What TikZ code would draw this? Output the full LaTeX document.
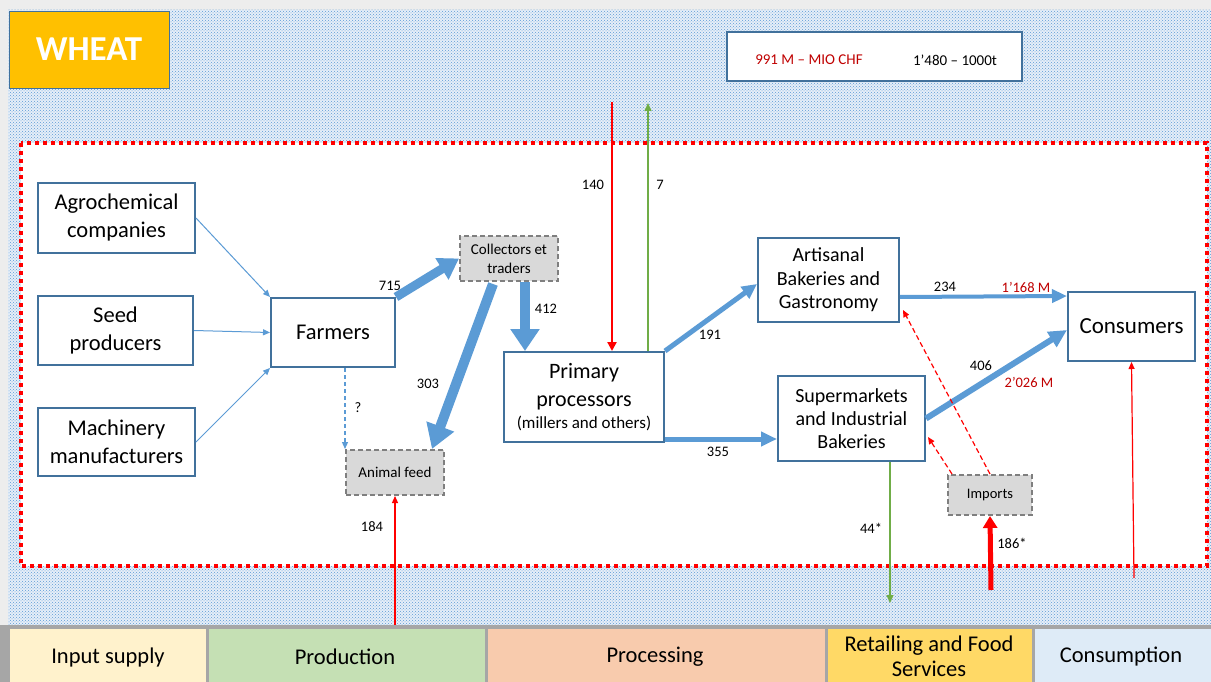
\documentclass[tikz,border=0pt]{standalone}
\usepackage{fontspec}
\setmainfont{Carlito}
\usetikzlibrary{arrows.meta,patterns,calc}
\definecolor{bluearr}{HTML}{5B9BD5}
\definecolor{boxline}{HTML}{41719C}
\definecolor{darkred}{HTML}{C00000}
\definecolor{greenarr}{HTML}{70AD47}
\definecolor{wheatfill}{HTML}{FFC000}
\definecolor{dotblue}{HTML}{5B9BD5}
\definecolor{dotbase}{HTML}{E6EEF8}
\definecolor{greyfill}{HTML}{D9D9D9}
\definecolor{greyline}{HTML}{7F7F7F}
\definecolor{barline}{HTML}{A6A6A6}
\definecolor{cInput}{HTML}{FFF2CC}
\definecolor{cProd}{HTML}{C5E0B4}
\definecolor{cProc}{HTML}{F8CBAD}
\definecolor{cRet}{HTML}{FFD966}
\definecolor{cCons}{HTML}{DEEBF7}
\begin{document}
\begin{tikzpicture}[x=1pt,y=-1pt,
  box/.style={draw=boxline,line width=2pt,fill=white,align=center,inner sep=0pt,font=\fontsize{22.5}{28}\selectfont},
  greybox/.style={draw=greyline,line width=2pt,dash pattern=on 5pt off 3pt,fill=greyfill,align=center,inner sep=0pt,font=\fontsize{15}{19}\selectfont},
  lbl/.style={font=\fontsize{14.5}{16}\selectfont,inner sep=0pt},
  redlbl/.style={lbl,text=darkred},
  thinblue/.style={draw=bluearr,line width=1pt,-{Triangle[length=7pt,width=6pt]}},
  fatblue/.style={draw=bluearr,line width=#1},
  redarr/.style={draw=red,line width=1.2pt,-{Triangle[length=7pt,width=6pt]}},
  reddash/.style={draw=red,line width=1.2pt,dash pattern=on 5pt off 3pt,-{Triangle[length=7pt,width=6pt]}},
  greenarrow/.style={draw=greenarr,line width=1.3pt,-{Triangle[length=8pt,width=7pt]}},
  barseg/.style={inner sep=0pt,align=center,font=\fontsize{22.5}{25}\selectfont}
]
\useasboundingbox (0,0) rectangle (1211,682);
% background
\fill[gray!14] (0,0) rectangle (1211,682);
\fill[dotbase] (8,10) rectangle (1211,625);
\fill[pattern=crosshatch dots,pattern color=dotblue] (8,10) rectangle (1211,625);
\fill[white] (21,143) rectangle (1207,566);
\draw[red,line width=4pt,dash pattern=on 4pt off 4pt] (21,143) rectangle (1207,566);

% title and legend
\node[draw=boxline,line width=0.8pt,fill=wheatfill,minimum width=160pt,minimum height=77pt,inner sep=0pt,text=white,font=\fontsize{35}{38}\selectfont\bfseries] (title) at (89,49.5) {WHEAT};
\node[draw=boxline,line width=2.5pt,fill=white,minimum width=295pt,minimum height=49pt,inner sep=0pt] (legend) at (874.5,56.5) {};
\node[redlbl,font=\fontsize{15}{17}\selectfont] (legmoney) at (809,60) {991 M – MIO CHF};
\node[lbl,font=\fontsize{15}{17}\selectfont] (legqty) at (955,60) {1’480 – 1000t};

% boxes
\node[box,minimum width=157pt,minimum height=70pt] (agro) at (116.5,218) {Agrochemical\\companies};
\node[box,minimum width=155pt,minimum height=69pt] (seed) at (115.5,330.5) {Seed\\producers};
\node[box,minimum width=157pt,minimum height=68pt] (mach) at (116.5,442) {Machinery\\manufacturers};
\node[box,minimum width=124pt,minimum height=69pt] (farm) at (333,332.5) {Farmers};
\node[greybox,minimum width=98pt,minimum height=45pt] (coll) at (509,258.5) {Collectors et\\traders};
\node[greybox,minimum width=98pt,minimum height=45pt] (feed) at (395,472.5) {Animal feed};
\node[box,minimum width=160pt,minimum height=90pt,font=\fontsize{22}{28}\selectfont] (prim) at (584,397) {Primary\\processors\\[-6pt]{\fontsize{17}{20}\selectfont (millers and others)}};
\node[box,minimum width=141pt,minimum height=84pt,font=\fontsize{20}{23.5}\selectfont] (art) at (828.5,280) {Artisanal\\Bakeries and\\Gastronomy};
\node[box,minimum width=147pt,minimum height=85pt,font=\fontsize{20}{23}\selectfont] (sup) at (851.5,418.5) {Supermarkets\\and Industrial\\Bakeries};
\node[box,minimum width=127pt,minimum height=69pt,font=\fontsize{23}{28}\selectfont] (cons) at (1131.5,326.5) {Consumers};
\node[greybox,minimum width=84pt,minimum height=40pt,font=\fontsize{14.5}{17}\selectfont] (imp) at (990,495) {Imports};

% free ends
\coordinate (top140) at (612,102);
\coordinate (top7) at (648,103);
\coordinate (bot184) at (395,625);
\coordinate (bot44) at (890,603);
\coordinate (bot186) at (991,590);
\coordinate (botcons) at (1134,578);

% thin input arrows
\draw[thinblue] (agro.east) -- (farm.north west);
\draw[thinblue] (seed.east) -- (farm.west);
\draw[thinblue] (mach.east) -- (farm.south west);

% thick flows
\draw[fatblue=9pt,-{Triangle[length=20pt,width=24pt]}] (farm.north east) -- (coll.west);
\draw[fatblue=10pt,-{Triangle[length=22pt,width=28pt]}] ($(coll.south)+(16,0)$) -- ($(prim.north)+(-59,0)$);
\draw[fatblue=10pt,-{Triangle[length=24pt,width=28pt]}] ($(coll.south)+(-16,2)$) -- ($(feed.north east)+(-13,0)$);
\draw[draw=bluearr,line width=1.2pt,dash pattern=on 4pt off 3pt,-{Triangle[length=7pt,width=6pt]}] (feed.north west |- farm.south) -- (feed.north west);
\draw[fatblue=5pt,-{Triangle[length=15pt,width=14pt]}] (prim.north east) -- ($(art.west)+(0,4)$);
\draw[fatblue=5pt,-{Triangle[length=16pt,width=14pt]}] ($(prim.south east)+(0,-4)$) -- ($(sup.south west)+(0,-23)$);
\draw[fatblue=4pt,-{Triangle[length=15pt,width=13pt]}] ($(art.east)+(0,17)$) -- ($(cons.north west)+(0,5)$);
\draw[fatblue=6pt,-{Triangle[length=18pt,width=17pt]}] (sup.east) -- ($(cons.west)+(0,3.5)$);

% external flows
\draw[draw=red,line width=2.5pt,-{Triangle[length=9pt,width=9pt]}] (top140) -- ($(prim.north)+(28,0)$);
\draw[greenarrow] ($(prim.north)+(64,0)$) -- (top7);
\draw[redarr] (bot184) -- (feed.south);
\draw[greenarrow] ($(sup.south)+(38.5,0)$) -- (bot44);
\draw[draw=red,line width=5pt,-{Triangle[length=12pt,width=14pt]}] (bot186) -- (imp.south);
\draw[redarr] (botcons) -- (cons.south);
\draw[reddash] (imp.north) -- ($(art.south east)+(3,-13)$);
\draw[reddash] ($(imp.north west)+(5,0)$) -- ($(sup.east)+(2,18.5)$);

% labels
\node[lbl] (l715) at (390,286) {715};
\node[lbl] (l412) at (546,309) {412};
\node[lbl] (l303) at (428,384) {303};
\node[lbl] (lq) at (358,408) {?};
\node[lbl] (l184) at (372,527) {184};
\node[lbl] (l140) at (593,185) {140};
\node[lbl] (l7) at (660,185) {7};
\node[lbl] (l191) at (710,335) {191};
\node[lbl] (l355) at (718,452) {355};
\node[lbl] (l234) at (945,287) {234};
\node[redlbl] (l1168) at (1026,287) {1’168 M};
\node[lbl] (l406) at (981,366) {406};
\node[redlbl] (l2026) at (1029,382) {2’026 M};
\node[lbl] (l44) at (871,528) {44*};
\node[lbl] (l186) at (1012,543) {186*};

% bottom bar
\fill[barline] (0,625) rectangle (1211,682);
\fill[cInput] (10,629) rectangle (206,682);
\fill[cProd] (209,629) rectangle (485,682);
\fill[cProc] (488,629) rectangle (825,682);
\fill[cRet] (828,629) rectangle (1032,682);
\fill[cCons] (1035,629) rectangle (1211,682);
\node[barseg] (sInput) at (108,657) {Input supply};
\node[barseg] (sProd) at (345,657) {Production};
\node[barseg] (sProc) at (655,657) {Processing};
\node[barseg] (sRet) at (929,656) {Retailing and Food\\Services};
\node[barseg] (sCons) at (1121,657) {Consumption};
\end{tikzpicture}
\end{document}
